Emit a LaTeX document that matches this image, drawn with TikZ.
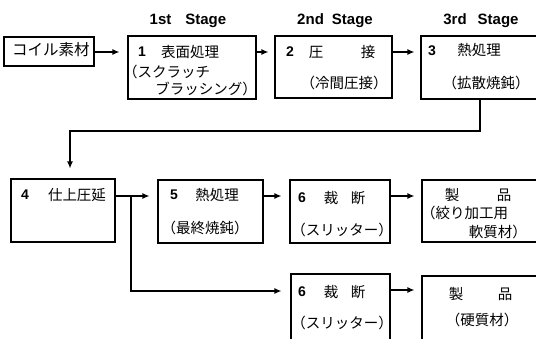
\documentclass[tikz,border=0pt]{standalone}
\usepackage{fontspec}
\setmainfont{Liberation Sans}
\newfontfamily\jp{Noto Sans CJK JP}
\usetikzlibrary{arrows.meta}
\begin{document}
\begin{tikzpicture}[x=1pt,y=-1pt,
  box/.style={draw,line width=1.2pt,rectangle,inner sep=0pt},
  jt/.style={inner sep=0pt,font=\jp\fontsize{14.5}{16}\selectfont},
  num/.style={inner sep=0pt,font=\bfseries\fontsize{14}{16}\selectfont},
  stg/.style={inner sep=0pt,font=\bfseries\fontsize{15}{17}\selectfont},
  arr/.style={line width=1.2pt,-{Latex[length=7pt,width=6pt]}},
  ln/.style={line width=1.2pt}]
\useasboundingbox (0,0) rectangle (536,338);
\clip (0,0) rectangle (536,338);
% stage labels
\node[stg] (s1) at (188,21) {1st\hspace{14pt}Stage};
\node[stg] (s2) at (335,21) {2nd\hspace{8pt}Stage};
\node[stg] (s3) at (481,21) {3rd\hspace{11pt}Stage};
% boxes
\node[box,minimum width=90pt,minimum height=29pt] (b0) at (49,51.5) {};
\node[box,minimum width=128pt,minimum height=63pt] (b1) at (192,67.5) {};
\node[box,minimum width=117pt,minimum height=62pt] (b2) at (333.5,67) {};
\node[box,minimum width=139pt,minimum height=63pt] (b3) at (490.5,67.5) {};
\node[box,minimum width=104pt,minimum height=63pt] (b4) at (63,210.5) {};
\node[box,minimum width=105pt,minimum height=63pt] (b5) at (210.5,211.5) {};
\node[box,minimum width=100pt,minimum height=63pt] (b6a) at (340,211.5) {};
\node[box,minimum width=138pt,minimum height=62pt] (p1) at (491,211) {};
\node[box,minimum width=99pt,minimum height=71pt] (b6b) at (340.5,309.5) {};
\node[box,minimum width=138pt,minimum height=69pt] (p2) at (491,310.5) {};
% texts
\node[jt,font=\jp\fontsize{15.5}{17}\selectfont] (t0) at (51,50) {コイル素材};
\node[num] (n1) at (142,52) {1};
\node[jt] (t1a) at (190,52) {表面処理};
\node[jt,anchor=west] (t1b) at (123,72) {（スクラッチ};
\node[jt,anchor=east] (t1c) at (257,89) {ブラッシング）};
\node[num] (n2) at (290,52) {2};
\node[jt] (t2a) at (316,52) {圧};
\node[jt] (t2b) at (368,52) {接};
\node[jt] (t2c) at (344,83) {（冷間圧接）};
\node[num] (n3) at (432,51) {3};
\node[jt] (t3a) at (479,50) {熱処理};
\node[jt] (t3b) at (486,83) {（拡散焼鈍）};
\node[num] (n4) at (25,195) {4};
\node[jt] (t4) at (77,195) {仕上圧延};
\node[num] (n5) at (174,195) {5};
\node[jt] (t5a) at (217,195) {熱処理};
\node[jt] (t5b) at (205,228) {（最終焼鈍）};
\node[num] (n6a) at (302,198) {6};
\node[jt] (t6a1) at (331,198) {裁};
\node[jt] (t6a2) at (358,198) {断};
\node[jt] (t6a3) at (342,230) {（スリッター）};
\node[jt] (tp1a) at (452,195) {製};
\node[jt] (tp1b) at (504,195) {品};
\node[jt,anchor=west] (tp1c) at (421,213) {（絞り加工用};
\node[jt,anchor=east] (tp1d) at (527,232) {軟質材）};
\node[num] (n6b) at (302,292) {6};
\node[jt] (t6b1) at (331,292) {裁};
\node[jt] (t6b2) at (358,292) {断};
\node[jt] (t6b3) at (342,323) {（スリッター）};
\node[jt] (tp2a) at (456,294) {製};
\node[jt] (tp2b) at (505,294) {品};
\node[jt] (tp2c) at (482,320) {（硬質材）};
% connectors
\draw[arr,shorten >=8pt] (b0.east |- 0,52) -- (b1.west |- 0,52);
\draw[arr,shorten >=6pt] (b1.east |- 0,52) -- (b2.west |- 0,52);
\draw[arr,shorten >=6pt] (b2.east |- 0,52) -- (b3.west |- 0,52);
\coordinate (c3) at (480,131);
\coordinate (c4) at (70,131);
\draw[arr,shorten >=10pt] (b3.south -| c3) -- (c3) -- (c4) -- (b4.north -| c4);
\draw[arr,shorten >=8pt] (b4.east |- 0,196) -- (b5.west |- 0,196);
\coordinate (br) at (131,196);
\coordinate (bd) at (131,291);
\draw[arr,shorten >=9pt] (br) -- (bd) -- (b6b.west |- bd);
\draw[arr,shorten >=8pt] (b5.east |- 0,196) -- (b6a.west |- 0,196);
\draw[arr,shorten >=7pt] (b6a.east |- 0,196) -- (p1.west |- 0,196);
\draw[arr,shorten >=7pt] (b6b.east |- 0,290) -- (p2.west |- 0,290);
\end{tikzpicture}
\end{document}
